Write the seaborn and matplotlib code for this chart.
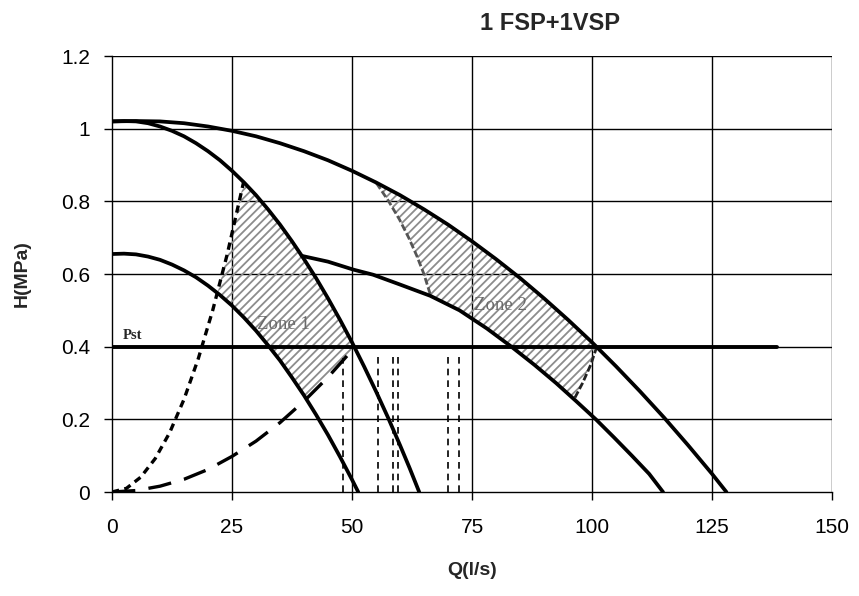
import numpy as np
import pandas as pd
import matplotlib
matplotlib.use("Agg")
import matplotlib.pyplot as plt
import seaborn as sns

# ---------------- data ----------------
# C: 2 pumps full speed
q_c = [0, 5, 10, 15, 20, 25, 30, 35, 40, 45, 50, 55, 60, 65, 70, 75, 80, 85, 90, 95,
       100, 105, 110, 115, 120, 125, 128]
h_c = [1.020, 1.021, 1.020, 1.015, 1.006, 0.994, 0.979, 0.960, 0.938, 0.913, 0.884, 0.852,
       0.817, 0.778, 0.736, 0.690, 0.641, 0.589, 0.533, 0.474, 0.412, 0.346, 0.277, 0.205,
       0.129, 0.050, 0.0]
# B: 1 pump full speed
q_b = [0, 2.5, 5, 7.5, 10, 12.5, 15, 17.5, 20, 22.5, 25, 27.5, 30, 32.5, 35, 37.5, 40,
       42.5, 45, 47.5, 50, 52.5, 55, 57.5, 60, 62, 64]
h_b = [1.020, 1.021, 1.020, 1.015, 1.006, 0.994, 0.979, 0.960, 0.938, 0.913, 0.884, 0.852,
       0.817, 0.778, 0.736, 0.690, 0.641, 0.589, 0.533, 0.474, 0.412, 0.346, 0.277, 0.205,
       0.129, 0.066, 0.0]
# A: 1 pump reduced speed
q_a = [0, 2.5, 5, 7.5, 10, 12.5, 15, 17.5, 20, 22.5, 25, 27.5, 30, 32.5, 35, 37.5, 40,
       42.5, 45, 47.5, 50, 51.3]
h_a = [0.655, 0.656, 0.654, 0.648, 0.639, 0.626, 0.610, 0.591, 0.568, 0.542, 0.513, 0.480,
       0.444, 0.404, 0.362, 0.315, 0.266, 0.213, 0.157, 0.097, 0.034, 0.0]
# D: 1 FSP + 1 VSP (reduced)
q_d = [39.5, 45, 50.3, 54.4, 60, 66.3, 72.4, 78.1, 83.2, 88.0, 92.5, 96.7, 100.8, 104.6,
       108.3, 111.9, 114.8]
h_d = [0.650, 0.634, 0.612, 0.598, 0.571, 0.540, 0.500, 0.450, 0.400, 0.350, 0.300, 0.250,
       0.200, 0.150, 0.100, 0.050, 0.0]
# short-dash system curve
q_sd = [0, 3, 6, 9, 12, 15, 18, 21, 24, 27.4]
h_sd = [0, 0.010, 0.041, 0.092, 0.163, 0.255, 0.368, 0.501, 0.654, 0.852]
# long-dash system curve
q_ld = [0, 5, 10, 15, 20, 25, 30, 35, 40, 45, 50]
h_ld = [0, 0.004, 0.016, 0.035, 0.062, 0.098, 0.140, 0.191, 0.250, 0.316, 0.390]
# zone 2 boundaries
q_l2 = [55.1, 57.65, 59.89, 61.81, 63.5, 64.98, 66.4]
h_l2 = [0.850, 0.80, 0.75, 0.70, 0.65, 0.60, 0.540]
q_r2 = [101.0, 99.73, 98.04, 96.3]
h_r2 = [0.400, 0.35, 0.30, 0.256]
# zones (polygon vertices)
zone1_q = [22.0, 24, 26, 27.4, 30, 32.5, 35, 37.5, 40, 42.5, 45, 47.5, 50.5, 50, 45, 40.5,
           37.5, 35, 32.5, 30, 27.5, 25, 22.0]
zone1_h = [0.549, 0.654, 0.767, 0.852, 0.817, 0.778, 0.736, 0.690, 0.641, 0.589, 0.533,
           0.474, 0.400, 0.390, 0.316, 0.256, 0.315, 0.362, 0.404, 0.444, 0.480, 0.513, 0.549]
zone2_q = [55.1, 57.65, 59.89, 61.81, 63.5, 64.98, 66.4, 72.4, 78.1, 83.2, 88, 92.5, 96.3,
           98.04, 99.73, 101.0, 100, 95, 90, 85, 80, 75, 70, 65, 60, 55.1]
zone2_h = [0.850, 0.80, 0.75, 0.70, 0.65, 0.60, 0.540, 0.5, 0.45, 0.4, 0.35, 0.3, 0.256,
           0.3, 0.35, 0.40, 0.412, 0.474, 0.533, 0.589, 0.641, 0.690, 0.736, 0.778, 0.817, 0.850]
# static pressure
pst_q = [0, 138.5]
pst_h = [0.4, 0.4]
# vertical dashed markers
vline_q = [48.2, 55.5, 58.6, 59.5, 69.9, 72.3]
vline_top = [0.37, 0.38, 0.38, 0.38, 0.38, 0.38]

x_ticks = [0, 25, 50, 75, 100, 125, 150]
y_ticks = [0, 0.2, 0.4, 0.6, 0.8, 1.0, 1.2]
y_labels = ["0", "0.2", "0.4", "0.6", "0.8", "1", "1.2"]

# ---------------- plotting ----------------
sns.set_theme(style="ticks")
plt.rcParams["font.family"] = ["Liberation Sans", "DejaVu Sans"]
plt.rcParams["hatch.linewidth"] = 1.3

fig = plt.figure(figsize=(8.59, 5.96), dpi=100)
ax = fig.add_axes([112 / 859, 1 - 492 / 596, 720 / 859, 436 / 596])

ax.set_xlim(0, 150)
ax.set_ylim(0, 1.2)

# grid
for xv in x_ticks[1:]:
    ax.axvline(xv, color="black", lw=1.0, zorder=1)
for yv in y_ticks[1:]:
    ax.axhline(yv, color="black", lw=1.0, zorder=1)

# hatched zones
ax.fill(zone1_q, zone1_h, facecolor="none", edgecolor="#8c8c8c", hatch="////", lw=0, zorder=2)
ax.fill(zone2_q, zone2_h, facecolor="none", edgecolor="#8c8c8c", hatch="////", lw=0, zorder=2)

def curve(q, h, **kw):
    df = pd.DataFrame({"Q": q, "H": h})
    sns.lineplot(data=df, x="Q", y="H", sort=False, estimator=None, ax=ax,
                 color=kw.pop("color", "black"), **kw)

curve(q_c, h_c, lw=2.7, zorder=4)
curve(q_b, h_b, lw=2.7, zorder=4)
curve(q_a, h_a, lw=2.7, zorder=4)
curve(q_d, h_d, lw=2.7, zorder=4)
curve(pst_q, pst_h, lw=2.8, zorder=4)
curve(q_sd, h_sd, lw=2.4, linestyle=(0, (2.2, 1.6)), zorder=4)
curve(q_ld, h_ld, lw=2.4, linestyle=(0, (7, 4)), zorder=4)
curve(q_l2, h_l2, lw=2.0, color="#555555", linestyle=(0, (2.5, 1.0)), zorder=3)
curve(q_r2, h_r2, lw=2.0, color="#222222", linestyle=(0, (2.5, 1.0)), zorder=3)

for qv, top in zip(vline_q, vline_top):
    curve([qv, qv], [0, top], lw=1.2, linestyle=(0, (4, 3)), zorder=3)

# text annotations
ax.text(2.3, 0.412, "Pst", fontsize=10.5, fontweight="bold", family=["Liberation Serif"],
        ha="left", va="bottom", zorder=5)
ax.text(35.8, 0.46, "Zone 1", fontsize=13.5, color="#6b6b6b", family=["Liberation Serif"],
        ha="center", va="center", zorder=5)
ax.text(81.0, 0.513, "Zone 2", fontsize=13.5, color="#6b6b6b", family=["Liberation Serif"],
        ha="center", va="center", zorder=5)

# axes styling
ax.set_xticks(x_ticks)
ax.set_yticks(y_ticks)
ax.set_yticklabels(y_labels)
ax.tick_params(axis="both", labelsize=15, length=6, width=1.0, color="black",
               labelcolor="black", direction="out")
ax.tick_params(axis="x", pad=13)
ax.tick_params(axis="y", pad=10)
for side in ["left", "bottom"]:
    ax.spines[side].set_color("black")
    ax.spines[side].set_linewidth(1.0)
    ax.spines[side].set_zorder(6)
for side in ["top", "right"]:
    ax.spines[side].set_visible(False)

ax.set_xlabel("Q(l/s)", fontsize=14, fontweight="bold")
ax.set_ylabel("H(MPa)", fontsize=14, fontweight="bold")
ax.xaxis.set_label_coords(0.5, -0.16)
ax.yaxis.set_label_coords(-0.113, 0.5)

fig.text(550 / 859, 1 - 24 / 596, "1 FSP+1VSP", fontsize=17, fontweight="bold",
         ha="center", va="center")

fig.savefig("out.png", dpi=100, facecolor="white")
